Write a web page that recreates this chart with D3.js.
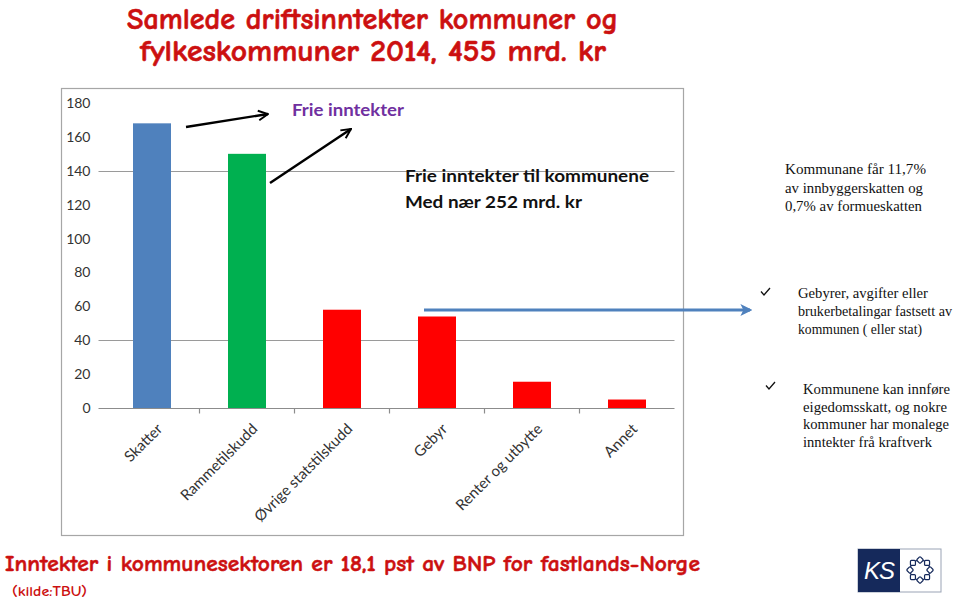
<!DOCTYPE html>
<html>
<head>
<meta charset="utf-8">
<script src="https://cdn.jsdelivr.net/npm/d3@7"></script>
<style>
  html, body { margin: 0; padding: 0; background: #fff; }
  svg { display: block; }
</style>
</head>
<body>
<svg id="chart" width="960" height="601"></svg>
<script>
// ---- data ----
const categories = ["Skatter", "Rammetilskudd", "Øvrige statstilskudd", "Gebyr", "Renter og utbytte", "Annet"];
const values = [168, 150, 58, 54, 15.5, 5];
const barColors = ["#4f81bd", "#00b050", "#ff0000", "#ff0000", "#ff0000", "#ff0000"];
const yTicks = [0, 20, 40, 60, 80, 100, 120, 140, 160, 180];
const gridValues = [40, 140];
const titleLines = ["Samlede driftsinntekter kommuner og", "fylkeskommuner 2014, 455 mrd. kr"];
const footerLine = "Inntekter i kommunesektoren er 18,1 pst av BNP for fastlands-Norge";
const sourceLine = "(kilde:TBU)";
const annotFrie = "Frie inntekter";
const annotFrieKomm = ["Frie inntekter til kommunene", "Med nær 252 mrd. kr"];
const note1 = ["Kommunane får  11,7%", "av innbyggerskatten og", "0,7% av formueskatten"];
const note2 = ["Gebyrer, avgifter eller", "brukerbetalingar fastsett av", "kommunen ( eller stat)"];
const note3 = ["Kommunene kan innføre", "eigedomsskatt, og nokre", "kommuner har monalege", "inntekter frå kraftverk"];

// ---- layout ----
const svg = d3.select("#chart");
const comic = "'Comic Sans MS', 'Comic Neue', 'DejaVu Sans', sans-serif";
const calibri = "Lato, 'Open Sans', sans-serif";
const serif = "'Liberation Serif', 'Times New Roman', serif";
const plot = { left: 104.5, right: 674.5, top: 103, bottom: 408 };

// defs: arrowheads
const defs = svg.append("defs");
defs.append("marker").attr("id", "blackArrow")
  .attr("viewBox", "0 0 10 10").attr("refX", 9).attr("refY", 5)
  .attr("markerWidth", 5).attr("markerHeight", 5).attr("orient", "auto")
  .attr("markerUnits", "strokeWidth")
  .append("path").attr("d", "M1,1 L9,5 L1,9").attr("fill", "none")
  .attr("stroke", "#000").attr("stroke-width", 1.6);
defs.append("marker").attr("id", "blueArrow")
  .attr("viewBox", "0 0 10 10").attr("refX", 8).attr("refY", 5)
  .attr("markerWidth", 4).attr("markerHeight", 4).attr("orient", "auto")
  .attr("markerUnits", "strokeWidth")
  .append("path").attr("d", "M0,0 L10,5 L0,10 L2.5,5 Z").attr("fill", "#4f81bd");

// Title
const titleColor = "#cc1010";
const titleSpec = [
  { x: 127, y: 29, w: 491 },
  { x: 140, y: 61, w: 466 }
];
titleLines.forEach((t, i) => {
  svg.append("text").attr("x", titleSpec[i].x).attr("y", titleSpec[i].y)
    .attr("font-family", comic).attr("font-weight", "bold").attr("font-size", 30)
    .attr("fill", titleColor).attr("stroke", titleColor).attr("stroke-width", 0.6)
    .attr("textLength", titleSpec[i].w).attr("lengthAdjust", "spacingAndGlyphs")
    .text(t);
});

// Chart frame
svg.append("rect").attr("x", 61.5).attr("y", 88.5).attr("width", 622).attr("height", 447)
  .attr("fill", "#fff").attr("stroke", "#a6a6a6").attr("stroke-width", 1.2);

// scales
const x = d3.scaleBand().domain(categories).range([plot.left, plot.right])
  .paddingInner(0.6).paddingOuter(0.3);
const y = d3.scaleLinear().domain([0, 180]).range([plot.bottom, plot.top]);

// gridlines
svg.append("g").attr("class", "grid").selectAll("line").data(gridValues).join("line")
  .attr("x1", plot.left - 6).attr("x2", plot.right)
  .attr("y1", d => Math.round(y(d)) + 0.5).attr("y2", d => Math.round(y(d)) + 0.5)
  .attr("stroke", "#9a9a9a").attr("stroke-width", 1);

// y axis
const yAxis = svg.append("g").attr("transform", `translate(${plot.left},0)`)
  .call(d3.axisLeft(y).tickValues(yTicks).tickSize(0).tickPadding(14));
yAxis.select(".domain").remove();
yAxis.selectAll("text").attr("font-family", calibri).attr("font-size", 14)
  .attr("fill", "#333");

// bars
svg.append("g").selectAll("rect").data(values).join("rect")
  .attr("x", (d, i) => x(categories[i]))
  .attr("y", d => y(d))
  .attr("width", x.bandwidth())
  .attr("height", d => y(0) - y(d))
  .attr("fill", (d, i) => barColors[i]);

// x axis
const xAxisG = svg.append("g").attr("transform", `translate(0,${Math.round(y(0)) + 0.5})`);
xAxisG.append("line").attr("x1", plot.left - 6).attr("x2", plot.right)
  .attr("stroke", "#8c8c8c").attr("stroke-width", 1.2);
const boundaries = categories.slice(1).map(c => x(c) - x.step() * x.paddingInner() / 2);
xAxisG.selectAll("line.tk").data(boundaries).join("line").attr("class", "tk")
  .attr("x1", d => d).attr("x2", d => d).attr("y1", 0).attr("y2", 5)
  .attr("stroke", "#8c8c8c").attr("stroke-width", 1.2);
xAxisG.selectAll("text").data(categories).join("text")
  .attr("transform", d => `translate(${x(d) + x.bandwidth() / 2 + 4},${14}) rotate(-45)`)
  .attr("text-anchor", "end").attr("dy", "0.7em")
  .attr("font-family", calibri).attr("font-size", 15).attr("fill", "#333")
  .text(d => d);

// annotation arrows (black)
svg.append("line").attr("x1", 186).attr("y1", 127).attr("x2", 268).attr("y2", 114)
  .attr("stroke", "#000").attr("stroke-width", 2.4).attr("marker-end", "url(#blackArrow)");
svg.append("line").attr("x1", 270).attr("y1", 183).attr("x2", 351).attr("y2", 129)
  .attr("stroke", "#000").attr("stroke-width", 2.4).attr("marker-end", "url(#blackArrow)");

svg.append("text").attr("x", 292).attr("y", 116).attr("font-family", calibri)
  .attr("font-weight", "bold").attr("font-size", 17).attr("fill", "#7030a0")
  .attr("textLength", 112).attr("lengthAdjust", "spacingAndGlyphs").text(annotFrie);

const fkSpec = [{ y: 182, w: 244 }, { y: 208, w: 177 }];
annotFrieKomm.forEach((t, i) => {
  svg.append("text").attr("x", 405).attr("y", fkSpec[i].y).attr("font-family", calibri)
    .attr("font-weight", "bold").attr("font-size", 17).attr("fill", "#111")
    .attr("textLength", fkSpec[i].w).attr("lengthAdjust", "spacingAndGlyphs").text(t);
});

// blue arrow from Gebyr to note
svg.append("line").attr("x1", 424).attr("y1", 310).attr("x2", 750).attr("y2", 310)
  .attr("stroke", "#4f81bd").attr("stroke-width", 3).attr("marker-end", "url(#blueArrow)");

// right-side notes (line widths fitted to the reference)
function block(lines, widths, x0, y0, lh, fs) {
  lines.forEach((t, i) => {
    svg.append("text").attr("x", x0).attr("y", y0 + i * lh)
      .attr("font-family", serif).attr("font-size", fs).attr("fill", "#111")
      .attr("textLength", widths[i]).attr("lengthAdjust", "spacingAndGlyphs").text(t);
  });
}
block(note1, [141, 138, 137], 785, 174, 18.5, 15.2);
block(note2, [130, 154, 124], 798, 298, 18, 15);
block(note3, [147, 144, 146, 129], 803, 394, 17.5, 15.2);

// check marks
const checks = [[761, 288], [766, 382]];
svg.append("g").selectAll("path").data(checks).join("path")
  .attr("d", d => `M${d[0]},${d[1] + 3.5} L${d[0] + 3},${d[1] + 7} L${d[0] + 9},${d[1]}`)
  .attr("fill", "none").attr("stroke", "#111").attr("stroke-width", 1.3);

// footer
svg.append("text").attr("x", 5).attr("y", 571).attr("font-family", comic)
  .attr("font-weight", "bold").attr("font-size", 22).attr("fill", titleColor)
  .attr("stroke", titleColor).attr("stroke-width", 0.5)
  .attr("textLength", 695).attr("lengthAdjust", "spacingAndGlyphs").text(footerLine);
svg.append("text").attr("x", 12).attr("y", 596).attr("font-family", comic)
  .attr("font-weight", "bold").attr("font-size", 13).attr("fill", titleColor)
  .attr("textLength", 75).attr("lengthAdjust", "spacingAndGlyphs").text(sourceLine);

// KS logo
const logo = svg.append("g").attr("transform", "translate(858,549)");
logo.append("rect").attr("x", 0).attr("y", 0).attr("width", 83).attr("height", 43)
  .attr("fill", "#fff").attr("stroke", "#9aa3b5").attr("stroke-width", 1);
logo.append("rect").attr("x", 0).attr("y", 0).attr("width", 42).attr("height", 43).attr("fill", "#15295b");
logo.append("text").attr("x", 21).attr("y", 30).attr("text-anchor", "middle")
  .attr("font-family", "'Liberation Sans', sans-serif").attr("font-style", "italic")
  .attr("font-size", 24).attr("fill", "#fff").attr("letter-spacing", -1).text("KS");
const chain = d3.range(8).map(i => i * Math.PI * 2 / 8);
logo.append("circle").attr("cx", 62).attr("cy", 21).attr("r", 10)
  .attr("fill", "none").attr("stroke", "#15295b").attr("stroke-width", 1.2);
logo.selectAll("rect.link").data(chain).join("rect").attr("class", "link")
  .attr("x", -2.5).attr("y", -2.5).attr("width", 5).attr("height", 5).attr("rx", 1)
  .attr("transform", a => `translate(${62 + 10 * Math.cos(a)},${21 + 10 * Math.sin(a)}) rotate(${a * 180 / Math.PI + 45})`)
  .attr("fill", "#fff").attr("stroke", "#15295b").attr("stroke-width", 1.2);
</script>
</body>
</html>
